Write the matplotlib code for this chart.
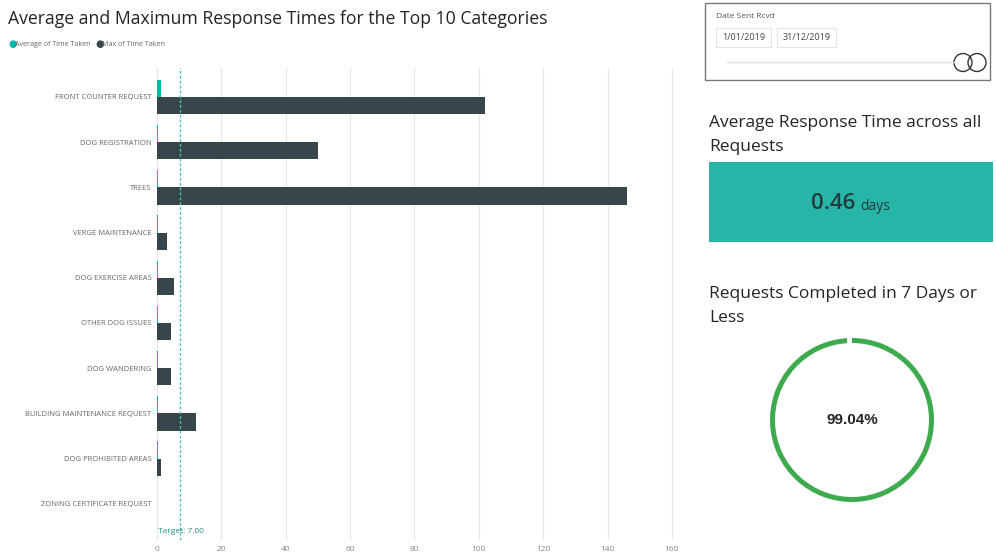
import matplotlib.pyplot as plt
from matplotlib.patches import Rectangle, Circle

plt.rcParams['font.family'] = ['Open Sans', 'DejaVu Sans']

# data
categories = ["FRONT COUNTER REQUEST", "DOG REGISTRATION", "TREES", "VERGE MAINTENANCE",
              "DOG EXERCISE AREAS", "OTHER DOG ISSUES", "DOG WANDERING",
              "BUILDING MAINTENANCE REQUEST", "DOG PROHIBITED AREAS", "ZONING CERTIFICATE REQUEST"]
avg_time = [1.2, 0.4, 0.4, 0.3, 0.4, 0.3, 0.3, 0.4, 0.3, 0.1]
max_time = [102, 50, 146, 3, 5.3, 4.3, 4.3, 12, 1.2, 0.1]
target = 7.0
x_ticks = [0, 20, 40, 60, 80, 100, 120, 140, 160]
avg_response = 0.46
pct_completed = 99.04
date_from = "1/01/2019"
date_to = "31/12/2019"

TEAL = "#01B8AA"
DARK = "#374649"
W, H = 996, 557


def fx(px):
    return px / W


def fy(py):
    return 1 - py / H


fig = plt.figure(figsize=(9.96, 5.57), dpi=100)
fig.patch.set_facecolor("white")

# main bar chart
ax = fig.add_axes([fx(157), fy(540), fx(680) - fx(157), fy(68) - fy(540)])
pos = list(range(len(categories)))
bh = 0.38
ax.barh([p - bh / 2 for p in pos], avg_time, height=bh, color=TEAL)
ax.barh([p + bh / 2 for p in pos], max_time, height=bh, color=DARK)
ax.axvline(target, color="#4cc3b9", linestyle=(0, (2, 1.5)), lw=1)
ax.text(0.3, 9.62, "Target: %.2f" % target, color="#2a8f88", fontsize=6, va="center", ha="left")
ax.set_yticks(pos)
ax.set_yticklabels(categories, fontsize=5.5, color="#666666")
ax.set_xticks(x_ticks)
ax.set_xticklabels([str(t) for t in x_ticks], fontsize=6, color="#888888")
ax.set_xlim(0, 162.5)
ax.set_ylim(9.8, -0.64)
ax.grid(axis="x", color="#e6e6e6", lw=0.8)
ax.set_axisbelow(True)
for s in ax.spines.values():
    s.set_visible(False)
ax.tick_params(length=0, pad=4)

# title and legend
fig.text(fx(8), fy(19), "Average and Maximum Response Times for the Top 10 Categories",
         fontsize=12.7, color="#252423", va="center")
fig.text(fx(8), fy(44), "\u25CF", color=TEAL, fontsize=7, va="center")
fig.text(fx(15), fy(44), "Average of Time Taken", color="#666666", fontsize=5.1, va="center")
fig.text(fx(95), fy(44), "\u25CF", color=DARK, fontsize=7, va="center")
fig.text(fx(102), fy(44), "Max of Time Taken", color="#666666", fontsize=5.1, va="center")

# slicer box
fig.add_artist(Rectangle((fx(705), fy(80)), fx(990) - fx(705), fy(3) - fy(80),
                         transform=fig.transFigure, fill=False, ec="#777777", lw=1))
fig.text(fx(716), fy(16), "Date Sent Rcvd", fontsize=6, color="#555555", va="center")
for x0, x1, lab in [(716, 771, date_from), (777, 836, date_to)]:
    fig.add_artist(Rectangle((fx(x0), fy(47)), fx(x1) - fx(x0), fy(28) - fy(47),
                             transform=fig.transFigure, fill=False, ec="#e4e4e4", lw=0.8))
    fig.text(fx((x0 + x1) / 2), fy(38), lab, fontsize=6.5, color="#444444", ha="center", va="center")
fig.add_artist(plt.Line2D([fx(727), fx(955)], [fy(62), fy(62)], transform=fig.transFigure,
                          color="#e0e0e0", lw=1))
sl = fig.add_axes([fx(950), fy(75), fx(990) - fx(950), fy(50) - fy(75)])
sl.set_xlim(0, 40)
sl.set_ylim(0, 25)
sl.set_aspect("equal")
sl.axis("off")
sl.add_patch(Circle((13, 12.5), 9, fill=False, ec="#333333", lw=1))
sl.add_patch(Circle((27, 12.5), 9, fill=False, ec="#333333", lw=1))

# KPI card
fig.text(fx(709), fy(135), "Average Response Time across all\nRequests", fontsize=12.5,
         color="#252423", va="center", linespacing=1.65)
fig.add_artist(Rectangle((fx(709), fy(242)), fx(993) - fx(709), fy(162) - fy(242),
                         transform=fig.transFigure, color="#26B5A6", lw=0))
fig.text(fx(855), fy(204), "%.2f" % avg_response, fontsize=16, color="#233b3c", ha="right",
         va="center", fontweight="semibold")
fig.text(fx(860), fy(206), "days", fontsize=10, color="#233b3c", ha="left", va="center")

# donut
fig.text(fx(709), fy(306), "Requests Completed in 7 Days or\nLess", fontsize=12.5,
         color="#252423", va="center", linespacing=1.65)
dx = fig.add_axes([fx(852 - 95), fy(420 + 95), fx(190), 190 / H])
dx.pie([pct_completed, 100 - pct_completed], colors=["#3DAA4D", "#ffffff"], startangle=90,
       counterclock=False, radius=82 / 95, wedgeprops=dict(width=5 / 95, lw=0))
dx.set_xlim(-1, 1)
dx.set_ylim(-1, 1)
dx.text(0, 0, "%.2f%%" % pct_completed, fontsize=11, fontweight="bold", color="#252423",
        ha="center", va="center", family=["Liberation Sans", "DejaVu Sans"])

fig.savefig("out.png", dpi=100)
